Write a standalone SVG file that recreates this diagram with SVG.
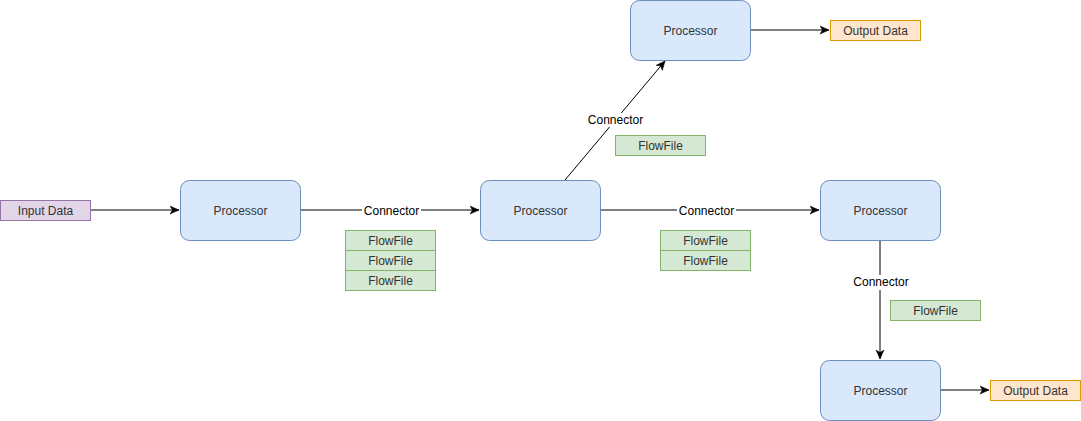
<svg xmlns="http://www.w3.org/2000/svg" width="1081" height="421" viewBox="0 0 1081 421">
<style>
text{font-family:"Liberation Sans",Arial,sans-serif;font-size:12px;text-anchor:middle;dominant-baseline:central;fill:#333333}
.proc{fill:#dae8fc;stroke:#6c8ebf;stroke-width:1}
.ff{fill:#d5e8d4;stroke:#82b366;stroke-width:1}
.in{fill:#e1d5e7;stroke:#9673a6;stroke-width:1}
.out{fill:#ffe6cc;stroke:#d79b00;stroke-width:1}
.edge{stroke:#000;stroke-width:1;fill:none}
.lbl{fill:#000}
.lblbg{fill:#fff}
</style>
<defs>
<marker id="arr" viewBox="0 0 10 10" refX="9" refY="5" markerWidth="10" markerHeight="10" markerUnits="userSpaceOnUse" orient="auto">
<path d="M0,1 L9,5 L0,9 L2.5,5 Z" fill="#000" stroke="#000" stroke-width="0.5"/>
</marker>
</defs>
<rect width="1081" height="421" fill="#fff"/>
<g id="connectors">
<line class="edge" x1="90" y1="210" x2="179" y2="210" marker-end="url(#arr)"/>
<line class="edge" x1="300" y1="210" x2="479" y2="210" marker-end="url(#arr)"/>
<line class="edge" x1="565" y1="180" x2="665" y2="61" marker-end="url(#arr)"/>
<line class="edge" x1="750" y1="30" x2="829" y2="30" marker-end="url(#arr)"/>
<line class="edge" x1="600" y1="210" x2="819" y2="210" marker-end="url(#arr)"/>
<line class="edge" x1="880" y1="240" x2="880" y2="359" marker-end="url(#arr)"/>
<line class="edge" x1="940" y1="390" x2="989" y2="390" marker-end="url(#arr)"/>
<rect class="lblbg" x="362" y="203" width="59" height="15"/>
<text class="lbl" x="391.5" y="211">Connector</text>
<rect class="lblbg" x="587" y="113" width="57" height="14"/>
<text class="lbl" x="615.5" y="120">Connector</text>
<rect class="lblbg" x="677" y="203" width="59" height="15"/>
<text class="lbl" x="706.5" y="211">Connector</text>
<rect class="lblbg" x="851" y="275" width="59" height="15"/>
<text class="lbl" x="881" y="282">Connector</text>
</g>
<g id="input"><rect class="in" x="0.5" y="200.5" width="90" height="20"/><text x="45.5" y="210.5">Input Data</text></g>
<g id="proc1"><rect class="proc" x="180.5" y="180.5" width="120" height="60" rx="9"/><text x="240.5" y="210.5">Processor</text></g>
<g id="ff1a"><rect class="ff" x="345.5" y="230.5" width="90" height="20"/><text x="390.5" y="240.5">FlowFile</text></g>
<g id="ff1b"><rect class="ff" x="345.5" y="250.5" width="90" height="20"/><text x="390.5" y="260.5">FlowFile</text></g>
<g id="ff1c"><rect class="ff" x="345.5" y="270.5" width="90" height="20"/><text x="390.5" y="280.5">FlowFile</text></g>
<g id="proc2"><rect class="proc" x="480.5" y="180.5" width="120" height="60" rx="9"/><text x="540.5" y="210.5">Processor</text></g>
<g id="proc-top"><rect class="proc" x="630.5" y="0.5" width="120" height="60" rx="9"/><text x="690.5" y="30.5">Processor</text></g>
<g id="out1"><rect class="out" x="830.5" y="20.5" width="90" height="20"/><text x="875.5" y="30.5">Output Data</text></g>
<g id="ff2"><rect class="ff" x="615.5" y="135.5" width="90" height="20"/><text x="660.5" y="145.5">FlowFile</text></g>
<g id="ff3a"><rect class="ff" x="660.5" y="230.5" width="90" height="20"/><text x="705.5" y="240.5">FlowFile</text></g>
<g id="ff3b"><rect class="ff" x="660.5" y="250.5" width="90" height="20"/><text x="705.5" y="260.5">FlowFile</text></g>
<g id="proc3"><rect class="proc" x="820.5" y="180.5" width="120" height="60" rx="9"/><text x="880.5" y="210.5">Processor</text></g>
<g id="ff4"><rect class="ff" x="890.5" y="300.5" width="90" height="20"/><text x="935.5" y="310.5">FlowFile</text></g>
<g id="proc4"><rect class="proc" x="820.5" y="360.5" width="120" height="60" rx="9"/><text x="880.5" y="390.5">Processor</text></g>
<g id="out2"><rect class="out" x="990.5" y="380.5" width="90" height="20"/><text x="1035.5" y="390.5">Output Data</text></g>
</svg>
